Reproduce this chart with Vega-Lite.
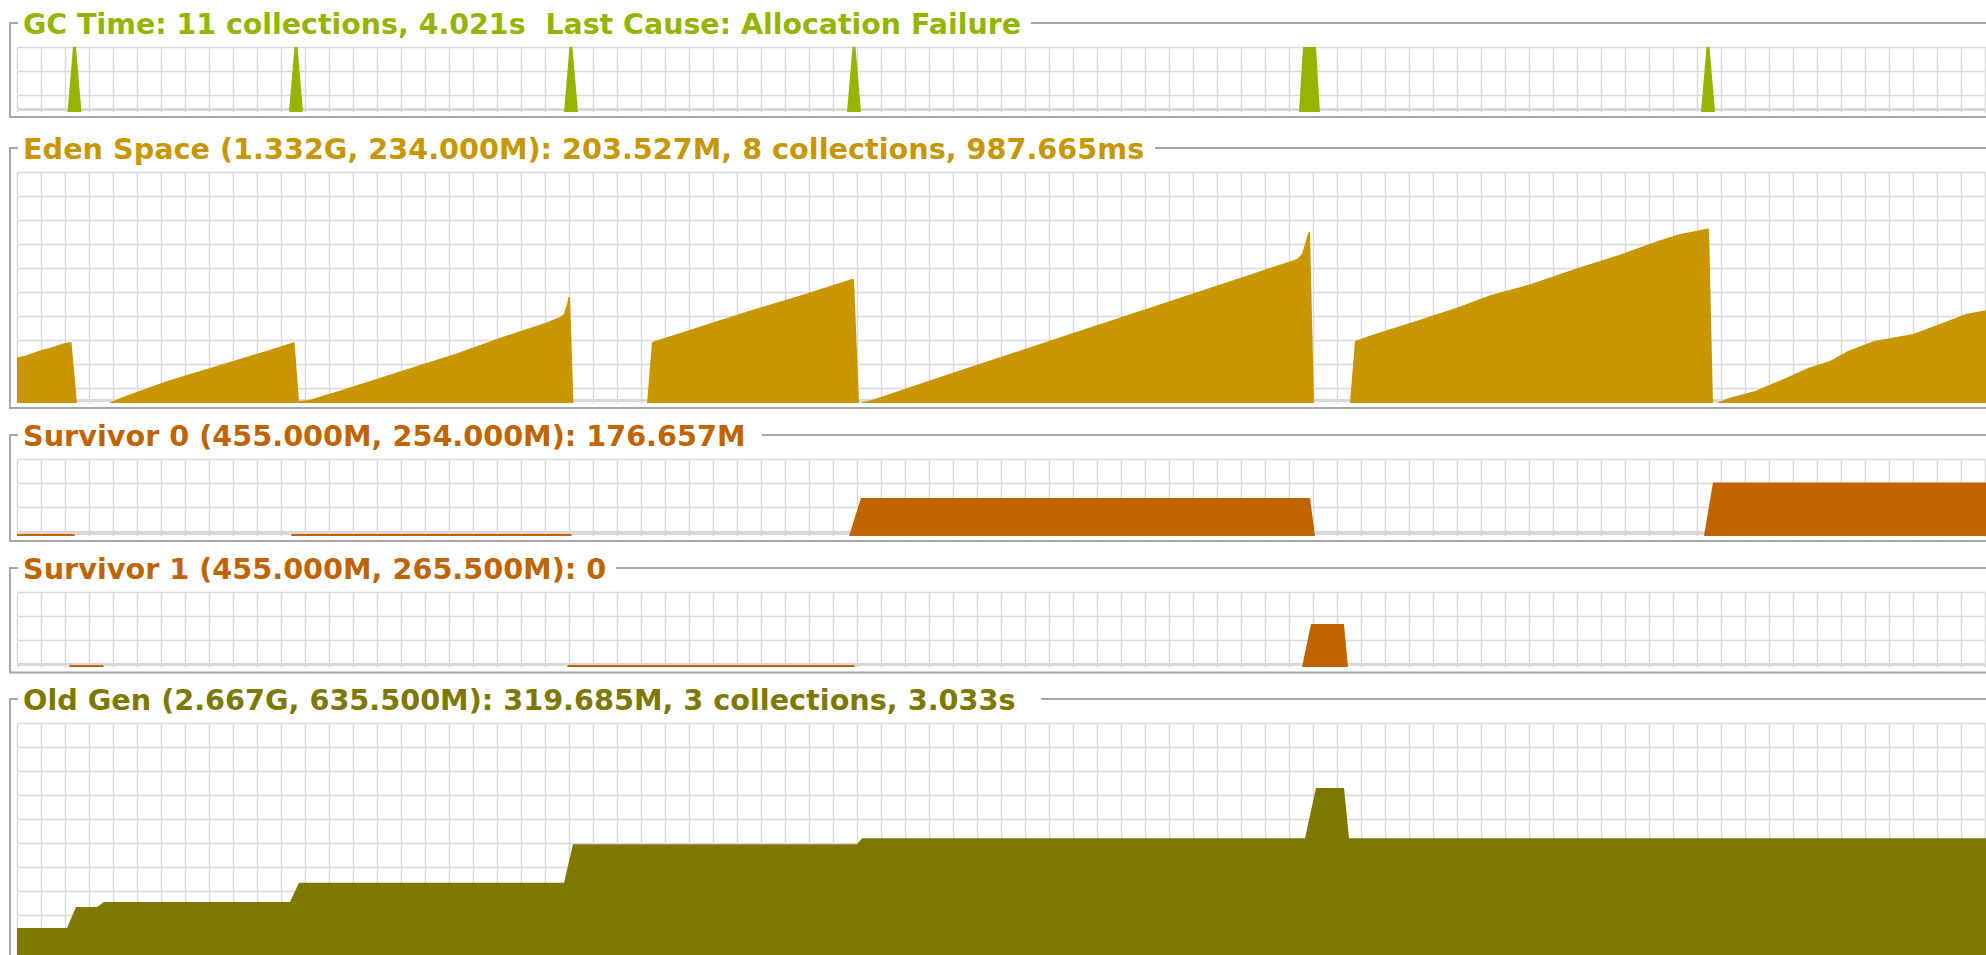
{
  "$schema": "https://vega.github.io/schema/vega-lite/v6.json",
  "background": "white",
  "padding": {"left": 7, "top": 10, "right": 0, "bottom": 0},
  "autosize": {"type": "pad"},
  "config": {
    "view": {"stroke": null},
    "axis": {"grid": true, "gridColor": "#d9d9d9", "gridWidth": 1.5, "domain": false, "ticks": false, "labels": false},
    "title": {"anchor": "start", "font": "DejaVu Sans", "fontSize": 28.7, "fontWeight": "bold", "baseline": "alphabetic", "offset": -18, "dx": 15}
  },
  "datasets": {
    "gc": [
      {"t": 4.208, "v": 0}, {"t": 4.667, "v": 100}, {"t": 4.917, "v": 100}, {"t": 5.375, "v": 0},
      {"t": 22.667, "v": 0}, {"t": 23.125, "v": 100}, {"t": 23.375, "v": 100}, {"t": 23.833, "v": 0},
      {"t": 45.583, "v": 0}, {"t": 46.042, "v": 100}, {"t": 46.292, "v": 100}, {"t": 46.75, "v": 0},
      {"t": 69.167, "v": 0}, {"t": 69.625, "v": 100}, {"t": 69.875, "v": 100}, {"t": 70.333, "v": 0},
      {"t": 106.833, "v": 0}, {"t": 107.167, "v": 100}, {"t": 108.25, "v": 100}, {"t": 108.583, "v": 0},
      {"t": 140.333, "v": 0}, {"t": 140.792, "v": 100}, {"t": 141.042, "v": 100}, {"t": 141.5, "v": 0}
    ],
    "eden": [
      {"t": 0, "v": 46.1}, {"t": 0.65, "v": 47.9}, {"t": 1.858, "v": 53.0}, {"t": 2.9, "v": 56.4}, {"t": 3.933, "v": 60.5}, {"t": 4.542, "v": 61.8}, {"t": 5.0, "v": 0},
      {"t": 7.667, "v": 0}, {"t": 8.75, "v": 5.8}, {"t": 12.583, "v": 22.6}, {"t": 15.333, "v": 32.7}, {"t": 18.083, "v": 42.8}, {"t": 20.833, "v": 53.0}, {"t": 23.125, "v": 61.8}, {"t": 23.5, "v": 2.0},
      {"t": 24.333, "v": 3.0}, {"t": 27.083, "v": 13.2}, {"t": 33.333, "v": 37.5}, {"t": 36.75, "v": 50.7}, {"t": 40.208, "v": 65.8}, {"t": 44.0, "v": 81.0}, {"t": 45.217, "v": 86.8}, {"t": 45.583, "v": 90.2}, {"t": 45.833, "v": 100.3}, {"t": 45.958, "v": 107.4}, {"t": 46.083, "v": 107.4}, {"t": 46.375, "v": 0},
      {"t": 52.5, "v": 0}, {"t": 52.917, "v": 61.8}, {"t": 57.083, "v": 78.0}, {"t": 61.25, "v": 94.2}, {"t": 65.417, "v": 109.4}, {"t": 69.583, "v": 125.6}, {"t": 69.75, "v": 125.6}, {"t": 70.167, "v": 0},
      {"t": 71.25, "v": 3.0}, {"t": 77.917, "v": 30.4}, {"t": 86.25, "v": 63.8}, {"t": 94.583, "v": 97.2}, {"t": 102.917, "v": 130.7}, {"t": 106.667, "v": 145.9}, {"t": 107.083, "v": 150.9}, {"t": 107.633, "v": 173.2}, {"t": 107.75, "v": 173.2}, {"t": 108.083, "v": 0},
      {"t": 111.083, "v": 0}, {"t": 111.5, "v": 62.8}, {"t": 112.917, "v": 68.9}, {"t": 116.583, "v": 83.1}, {"t": 119.917, "v": 96.2}, {"t": 122.833, "v": 109.4}, {"t": 126.167, "v": 120.5}, {"t": 129.833, "v": 135.7}, {"t": 133.5, "v": 149.9}, {"t": 136.75, "v": 164.1}, {"t": 138.583, "v": 171.2}, {"t": 140.833, "v": 176.6}, {"t": 141.0, "v": 176.6}, {"t": 141.333, "v": 0},
      {"t": 141.75, "v": 0.6}, {"t": 142.667, "v": 5.1}, {"t": 144.833, "v": 12.2}, {"t": 147.417, "v": 25.3}, {"t": 149.25, "v": 35.5}, {"t": 151.083, "v": 42.5}, {"t": 152.583, "v": 52.7}, {"t": 154.75, "v": 62.8}, {"t": 158.0, "v": 69.9}, {"t": 160.25, "v": 80.0}, {"t": 162.417, "v": 90.2}, {"t": 164.25, "v": 94.2}
    ],
    "s0": [
      {"t": 0, "v": 6.6}, {"t": 4.75, "v": 6.6}, {"t": 4.833, "v": 0},
      {"t": 22.833, "v": 0}, {"t": 22.917, "v": 6.6}, {"t": 46.167, "v": 6.6}, {"t": 46.25, "v": 0},
      {"t": 69.333, "v": 0}, {"t": 70.333, "v": 125.4}, {"t": 107.75, "v": 125.4}, {"t": 108.167, "v": 0},
      {"t": 140.583, "v": 0}, {"t": 141.333, "v": 176.657}, {"t": 164.25, "v": 176.657}
    ],
    "s1": [
      {"t": 0, "v": 0}, {"t": 4.333, "v": 0}, {"t": 4.417, "v": 7.1}, {"t": 7.167, "v": 7.1}, {"t": 7.25, "v": 0},
      {"t": 45.833, "v": 0}, {"t": 45.917, "v": 7.1}, {"t": 69.75, "v": 7.1}, {"t": 69.833, "v": 0},
      {"t": 107.083, "v": 0}, {"t": 107.833, "v": 152}, {"t": 110.583, "v": 152}, {"t": 110.917, "v": 0}, {"t": 164.25, "v": 0}
    ],
    "old": [
      {"t": 0, "v": 74.0}, {"t": 4.167, "v": 74.0}, {"t": 4.917, "v": 131.5}, {"t": 6.667, "v": 131.5}, {"t": 7.25, "v": 145.2},
      {"t": 22.75, "v": 145.2}, {"t": 23.5, "v": 198.0}, {"t": 45.583, "v": 198.0}, {"t": 46.333, "v": 303.2},
      {"t": 70.0, "v": 303.2}, {"t": 70.417, "v": 319.685}, {"t": 107.333, "v": 319.685}, {"t": 108.25, "v": 457.4},
      {"t": 110.583, "v": 457.4}, {"t": 111.0, "v": 319.685}, {"t": 164.25, "v": 319.685}
    ]
  },
  "spacing": 60,
  "bounds": "flush",
  "vconcat": [
    {
      "width": 1971, "height": 65,
      "title": {"text": "GC Time: 11 collections, 4.021s\u00a0 Last Cause: Allocation Failure", "color": "#95b400", "fontSize": 28.45},
      "layer": [
        {"data": {"values": [{}]}, "mark": {"type": "rule", "color": "#d9d9d9", "strokeWidth": 3}, "encoding": {"y": {"datum": 3.846, "type": "quantitative", "scale": {"domain": [0, 100], "nice": false}, "axis": {"title": null}}}},
        {"data": {"name": "gc"}, "mark": {"type": "area", "color": "#95b400"}, "encoding": {
          "x": {"field": "t", "type": "quantitative", "scale": {"domain": [0, 164.25], "nice": false, "zero": false}, "axis": {"tickCount": 82, "title": null}},
          "y": {"field": "v", "type": "quantitative", "scale": {"domain": [0, 100], "nice": false}, "axis": {"values": [100, 63.077, 26.154], "tickCount": 20, "title": null}}}},
        {"data": {"values": [{}]}, "mark": {"type": "rule", "color": "#a6a6a6", "strokeWidth": 2, "clip": false}, "encoding": {"x": {"datum": -0.583, "type": "quantitative", "scale": {"domain": [0, 164.25], "nice": false, "zero": false}, "axis": {"title": null}}, "y": {"datum": 136.92, "type": "quantitative", "scale": {"domain": [0, 100], "nice": false}, "axis": {"title": null}}, "y2": {"datum": -7.69}}},
        {"data": {"values": [{}]}, "mark": {"type": "rule", "color": "#a6a6a6", "strokeWidth": 2, "clip": false}, "encoding": {"x": {"datum": -0.667, "type": "quantitative", "scale": {"domain": [0, 164.25], "nice": false, "zero": false}, "axis": {"title": null}}, "x2": {"datum": 164.25}, "y": {"datum": -7.69, "type": "quantitative", "scale": {"domain": [0, 100], "nice": false}, "axis": {"title": null}}}},
        {"data": {"values": [{}]}, "mark": {"type": "rule", "color": "#a6a6a6", "strokeWidth": 2, "clip": false}, "encoding": {"x": {"datum": -0.667, "type": "quantitative", "scale": {"domain": [0, 164.25], "nice": false, "zero": false}, "axis": {"title": null}}, "x2": {"datum": 0.083}, "y": {"datum": 136.92, "type": "quantitative", "scale": {"domain": [0, 100], "nice": false}, "axis": {"title": null}}}},
        {"data": {"values": [{}]}, "mark": {"type": "rule", "color": "#a6a6a6", "strokeWidth": 2, "clip": false}, "encoding": {"x": {"datum": 84.5, "type": "quantitative", "scale": {"domain": [0, 164.25], "nice": false, "zero": false}, "axis": {"title": null}}, "x2": {"datum": 164.25}, "y": {"datum": 136.92, "type": "quantitative", "scale": {"domain": [0, 100], "nice": false}, "axis": {"title": null}}}}
      ]
    },
    {
      "spacing": 56,
      "bounds": "flush",
      "vconcat": [
        {
          "width": 1971, "height": 231,
          "title": {"text": "Eden Space (1.332G, 234.000M): 203.527M, 8 collections, 987.665ms", "color": "#c89600"},
          "layer": [
            {"data": {"values": [{}]}, "mark": {"type": "rule", "color": "#d9d9d9", "strokeWidth": 3}, "encoding": {"y": {"datum": 2.532, "type": "quantitative", "scale": {"domain": [0, 234], "nice": false}, "axis": {"title": null}}}},
            {"data": {"name": "eden"}, "mark": {"type": "area", "color": "#c89600"}, "encoding": {
              "x": {"field": "t", "type": "quantitative", "scale": {"domain": [0, 164.25], "nice": false, "zero": false}, "axis": {"tickCount": 82, "title": null}},
              "y": {"field": "v", "type": "quantitative", "scale": {"domain": [0, 234], "nice": false}, "axis": {"values": [234, 209.688, 185.377, 161.065, 136.753, 112.442, 88.13, 63.818, 39.506, 15.195], "tickCount": 20, "title": null}}}},
            {"data": {"values": [{}]}, "mark": {"type": "rule", "color": "#a6a6a6", "strokeWidth": 2, "clip": false}, "encoding": {"x": {"datum": -0.583, "type": "quantitative", "scale": {"domain": [0, 164.25], "nice": false, "zero": false}, "axis": {"title": null}}, "y": {"datum": 258.31, "type": "quantitative", "scale": {"domain": [0, 234], "nice": false}, "axis": {"title": null}}, "y2": {"datum": -5.06}}},
            {"data": {"values": [{}]}, "mark": {"type": "rule", "color": "#a6a6a6", "strokeWidth": 2, "clip": false}, "encoding": {"x": {"datum": -0.667, "type": "quantitative", "scale": {"domain": [0, 164.25], "nice": false, "zero": false}, "axis": {"title": null}}, "x2": {"datum": 164.25}, "y": {"datum": -5.06, "type": "quantitative", "scale": {"domain": [0, 234], "nice": false}, "axis": {"title": null}}}},
            {"data": {"values": [{}]}, "mark": {"type": "rule", "color": "#a6a6a6", "strokeWidth": 2, "clip": false}, "encoding": {"x": {"datum": -0.667, "type": "quantitative", "scale": {"domain": [0, 164.25], "nice": false, "zero": false}, "axis": {"title": null}}, "x2": {"datum": 0.083}, "y": {"datum": 258.31, "type": "quantitative", "scale": {"domain": [0, 234], "nice": false}, "axis": {"title": null}}}},
            {"data": {"values": [{}]}, "mark": {"type": "rule", "color": "#a6a6a6", "strokeWidth": 2, "clip": false}, "encoding": {"x": {"datum": 94.833, "type": "quantitative", "scale": {"domain": [0, 164.25], "nice": false, "zero": false}, "axis": {"title": null}}, "x2": {"datum": 164.25}, "y": {"datum": 258.31, "type": "quantitative", "scale": {"domain": [0, 234], "nice": false}, "axis": {"title": null}}}}
          ]
        },
        {
          "width": 1971, "height": 77,
          "title": {"text": "Survivor 0 (455.000M, 254.000M): 176.657M", "color": "#c06400"},
          "layer": [
            {"data": {"values": [{}]}, "mark": {"type": "rule", "color": "#d9d9d9", "strokeWidth": 3}, "encoding": {"y": {"datum": 8.247, "type": "quantitative", "scale": {"domain": [0, 254], "nice": false}, "axis": {"title": null}}}},
            {"data": {"name": "s0"}, "mark": {"type": "area", "color": "#c06400"}, "encoding": {
              "x": {"field": "t", "type": "quantitative", "scale": {"domain": [0, 164.25], "nice": false, "zero": false}, "axis": {"tickCount": 82, "title": null}},
              "y": {"field": "v", "type": "quantitative", "scale": {"domain": [0, 254], "nice": false}, "axis": {"values": [254, 174.831, 95.662, 16.494], "tickCount": 20, "title": null}}}},
            {"data": {"values": [{}]}, "mark": {"type": "rule", "color": "#a6a6a6", "strokeWidth": 2, "clip": false}, "encoding": {"x": {"datum": -0.583, "type": "quantitative", "scale": {"domain": [0, 164.25], "nice": false, "zero": false}, "axis": {"title": null}}, "y": {"datum": 333.17, "type": "quantitative", "scale": {"domain": [0, 254], "nice": false}, "axis": {"title": null}}, "y2": {"datum": -16.49}}},
            {"data": {"values": [{}]}, "mark": {"type": "rule", "color": "#a6a6a6", "strokeWidth": 2, "clip": false}, "encoding": {"x": {"datum": -0.667, "type": "quantitative", "scale": {"domain": [0, 164.25], "nice": false, "zero": false}, "axis": {"title": null}}, "x2": {"datum": 164.25}, "y": {"datum": -16.49, "type": "quantitative", "scale": {"domain": [0, 254], "nice": false}, "axis": {"title": null}}}},
            {"data": {"values": [{}]}, "mark": {"type": "rule", "color": "#a6a6a6", "strokeWidth": 2, "clip": false}, "encoding": {"x": {"datum": -0.667, "type": "quantitative", "scale": {"domain": [0, 164.25], "nice": false, "zero": false}, "axis": {"title": null}}, "x2": {"datum": 0.083}, "y": {"datum": 333.17, "type": "quantitative", "scale": {"domain": [0, 254], "nice": false}, "axis": {"title": null}}}},
            {"data": {"values": [{}]}, "mark": {"type": "rule", "color": "#a6a6a6", "strokeWidth": 2, "clip": false}, "encoding": {"x": {"datum": 62.083, "type": "quantitative", "scale": {"domain": [0, 164.25], "nice": false, "zero": false}, "axis": {"title": null}}, "x2": {"datum": 164.25}, "y": {"datum": 333.17, "type": "quantitative", "scale": {"domain": [0, 254], "nice": false}, "axis": {"title": null}}}}
          ]
        },
        {
          "width": 1971, "height": 75,
          "title": {"text": "Survivor 1 (455.000M, 265.500M): 0", "color": "#c06400"},
          "layer": [
            {"data": {"values": [{}]}, "mark": {"type": "rule", "color": "#d9d9d9", "strokeWidth": 3}, "encoding": {"y": {"datum": 8.85, "type": "quantitative", "scale": {"domain": [0, 265.5], "nice": false}, "axis": {"title": null}}}},
            {"data": {"name": "s1"}, "mark": {"type": "area", "color": "#c06400"}, "encoding": {
              "x": {"field": "t", "type": "quantitative", "scale": {"domain": [0, 164.25], "nice": false, "zero": false}, "axis": {"tickCount": 82, "title": null}},
              "y": {"field": "v", "type": "quantitative", "scale": {"domain": [0, 265.5], "nice": false}, "axis": {"values": [265.5, 180.54, 95.58, 10.62], "tickCount": 20, "title": null}}}},
            {"data": {"values": [{}]}, "mark": {"type": "rule", "color": "#a6a6a6", "strokeWidth": 2, "clip": false}, "encoding": {"x": {"datum": -0.583, "type": "quantitative", "scale": {"domain": [0, 164.25], "nice": false, "zero": false}, "axis": {"title": null}}, "y": {"datum": 350.46, "type": "quantitative", "scale": {"domain": [0, 265.5], "nice": false}, "axis": {"title": null}}, "y2": {"datum": -19.5}}},
            {"data": {"values": [{}]}, "mark": {"type": "rule", "color": "#a6a6a6", "strokeWidth": 2, "clip": false}, "encoding": {"x": {"datum": -0.667, "type": "quantitative", "scale": {"domain": [0, 164.25], "nice": false, "zero": false}, "axis": {"title": null}}, "x2": {"datum": 164.25}, "y": {"datum": -19.5, "type": "quantitative", "scale": {"domain": [0, 265.5], "nice": false}, "axis": {"title": null}}}},
            {"data": {"values": [{}]}, "mark": {"type": "rule", "color": "#a6a6a6", "strokeWidth": 2, "clip": false}, "encoding": {"x": {"datum": -0.667, "type": "quantitative", "scale": {"domain": [0, 164.25], "nice": false, "zero": false}, "axis": {"title": null}}, "x2": {"datum": 0.083}, "y": {"datum": 350.46, "type": "quantitative", "scale": {"domain": [0, 265.5], "nice": false}, "axis": {"title": null}}}},
            {"data": {"values": [{}]}, "mark": {"type": "rule", "color": "#a6a6a6", "strokeWidth": 2, "clip": false}, "encoding": {"x": {"datum": 49.917, "type": "quantitative", "scale": {"domain": [0, 164.25], "nice": false, "zero": false}, "axis": {"title": null}}, "x2": {"datum": 164.25}, "y": {"datum": 350.46, "type": "quantitative", "scale": {"domain": [0, 265.5], "nice": false}, "axis": {"title": null}}}}
          ]
        },
        {
          "width": 1971, "height": 232,
          "title": {"text": "Old Gen (2.667G, 635.500M): 319.685M, 3 collections, 3.033s", "color": "#7e7800"},
          "layer": [
            {"data": {"name": "old"}, "mark": {"type": "area", "color": "#7e7800"}, "encoding": {
              "x": {"field": "t", "type": "quantitative", "scale": {"domain": [0, 164.25], "nice": false, "zero": false}, "axis": {"tickCount": 82, "title": null}},
              "y": {"field": "v", "type": "quantitative", "scale": {"domain": [0, 635.5], "nice": false}, "axis": {"values": [635.5, 569.759, 504.017, 438.276, 372.534, 306.793, 241.052, 175.31, 109.569, 43.828], "tickCount": 20, "title": null}}}},
            {"data": {"values": [{}]}, "mark": {"type": "rule", "color": "#a6a6a6", "strokeWidth": 2, "clip": false}, "encoding": {"x": {"datum": -0.583, "type": "quantitative", "scale": {"domain": [0, 164.25], "nice": false, "zero": false}, "axis": {"title": null}}, "y": {"datum": 701.24, "type": "quantitative", "scale": {"domain": [0, 635.5], "nice": false}, "axis": {"title": null}}, "y2": {"datum": 0}}},
            {"data": {"values": [{}]}, "mark": {"type": "rule", "color": "#a6a6a6", "strokeWidth": 2, "clip": false}, "encoding": {"x": {"datum": -0.667, "type": "quantitative", "scale": {"domain": [0, 164.25], "nice": false, "zero": false}, "axis": {"title": null}}, "x2": {"datum": 0.083}, "y": {"datum": 701.24, "type": "quantitative", "scale": {"domain": [0, 635.5], "nice": false}, "axis": {"title": null}}}},
            {"data": {"values": [{}]}, "mark": {"type": "rule", "color": "#a6a6a6", "strokeWidth": 2, "clip": false}, "encoding": {"x": {"datum": 85.333, "type": "quantitative", "scale": {"domain": [0, 164.25], "nice": false, "zero": false}, "axis": {"title": null}}, "x2": {"datum": 164.25}, "y": {"datum": 701.24, "type": "quantitative", "scale": {"domain": [0, 635.5], "nice": false}, "axis": {"title": null}}}}
          ]
        }
      ]
    }
  ]
}
